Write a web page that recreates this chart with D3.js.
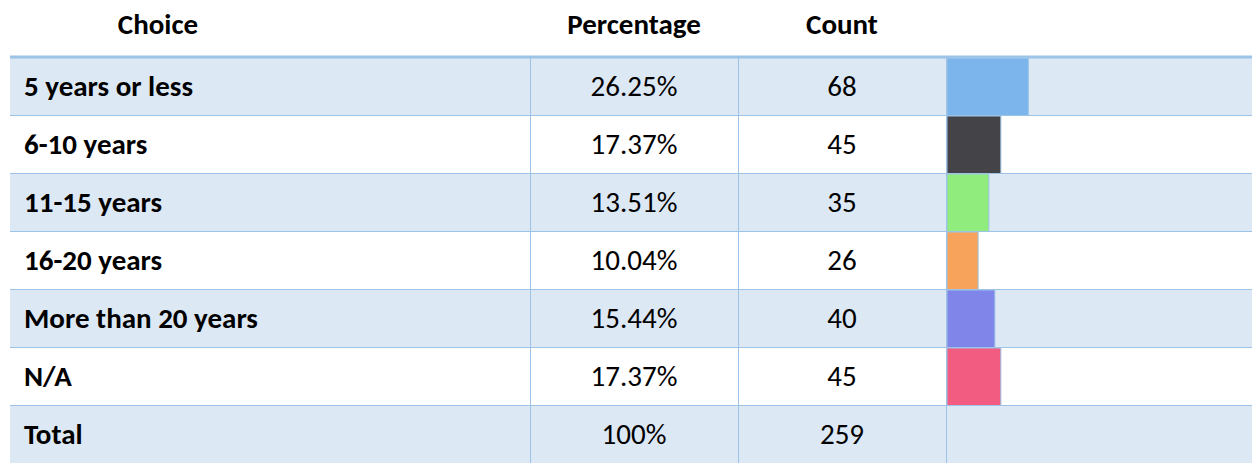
<!DOCTYPE html>
<html>
<head>
<meta charset="utf-8">
<script src="https://cdn.jsdelivr.net/npm/d3@7"></script>
<style>
  body { margin: 0; background: #fff; }
  text { font-family: Carlito, Lato, "Open Sans", sans-serif; }
</style>
</head>
<body>
<svg id="chart" width="1252" height="463"></svg>
<script>
var choices = ['5 years or less', '6-10 years', '11-15 years', '16-20 years', 'More than 20 years', 'N/A'];
var percentages = [26.25, 17.37, 13.51, 10.04, 15.44, 17.37];
var counts = [68, 45, 35, 26, 40, 45];
var colors = ['#7cb5ec', '#434348', '#90ed7d', '#f7a35c', '#8085e9', '#f15c80'];
var headers = ['Choice', 'Percentage', 'Count'];
var totalLabel = 'Total', totalPct = '100%', totalCount = 259;

var svg = d3.select('#chart');
var width = +svg.attr('width'), height = +svg.attr('height');
var left = 10, headerH = 57, rowH = 58;
var colX = [left, 530, 738, 946, width];
var lineColor = '#9dc3e6', bandColor = '#dde8f5';
var fs = 29;

var rows = choices.map((c, i) => ({label: c, pct: percentages[i].toFixed(2) + '%', count: counts[i], value: percentages[i], color: colors[i]}));
rows.push({label: totalLabel, pct: totalPct, count: totalCount, value: null});

var y = d3.scaleBand().domain(d3.range(rows.length)).range([headerH + 1, headerH + 1 + rowH * rows.length]);
var barX = d3.scaleLinear().domain([0, 100]).range([colX[3] + 1, colX[3] + 1 + 310]);

// header
var hx = [158, (colX[1] + colX[2]) / 2, (colX[2] + colX[3]) / 2];
svg.selectAll('text.head').data(headers).enter().append('text')
  .attr('class', 'head')
  .attr('x', (d, i) => hx[i])
  .attr('y', 34)
  .attr('text-anchor', 'middle')
  .attr('font-size', fs)
  .attr('font-weight', 'bold')
  .attr('fill', '#000')
  .text(d => d);

var row = svg.selectAll('g.row').data(rows).enter().append('g')
  .attr('class', 'row')
  .attr('transform', (d, i) => 'translate(0,' + y(i) + ')');

row.append('rect')
  .attr('x', left).attr('width', width - left)
  .attr('height', y.bandwidth())
  .attr('fill', (d, i) => i % 2 == 0 ? bandColor : '#fff');

row.filter(d => d.value != null).append('rect')
  .attr('x', barX(0))
  .attr('width', d => barX(d.value) - barX(0))
  .attr('height', y.bandwidth())
  .attr('fill', d => d.color)
  .attr('stroke', lineColor)
  .attr('stroke-width', 1);

row.append('line')
  .attr('x1', left).attr('x2', width)
  .attr('y1', y.bandwidth() - 0.5).attr('y2', y.bandwidth() - 0.5)
  .attr('stroke', lineColor)
  .attr('stroke-width', (d, i) => i == rows.length - 1 ? 0 : 1);

[1, 2, 3].forEach(function(c) {
  row.append('line')
    .attr('x1', colX[c] + 0.5).attr('x2', colX[c] + 0.5)
    .attr('y1', 0).attr('y2', y.bandwidth())
    .attr('stroke', lineColor);
});

var base = y.bandwidth() / 2 + 9;
row.append('text')
  .attr('x', 24).attr('y', base)
  .attr('font-size', fs).attr('font-weight', 'bold')
  .text(d => d.label);

row.append('text')
  .attr('x', hx[1]).attr('y', base)
  .attr('text-anchor', 'middle')
  .attr('font-size', fs)
  .text(d => d.pct);

row.append('text')
  .attr('x', hx[2]).attr('y', base)
  .attr('text-anchor', 'middle')
  .attr('font-size', fs)
  .text(d => d.count);

// thick header rule
svg.append('line')
  .attr('x1', left).attr('x2', width)
  .attr('y1', headerH).attr('y2', headerH)
  .attr('stroke', lineColor)
  .attr('stroke-width', 3);
</script>
</body>
</html>
